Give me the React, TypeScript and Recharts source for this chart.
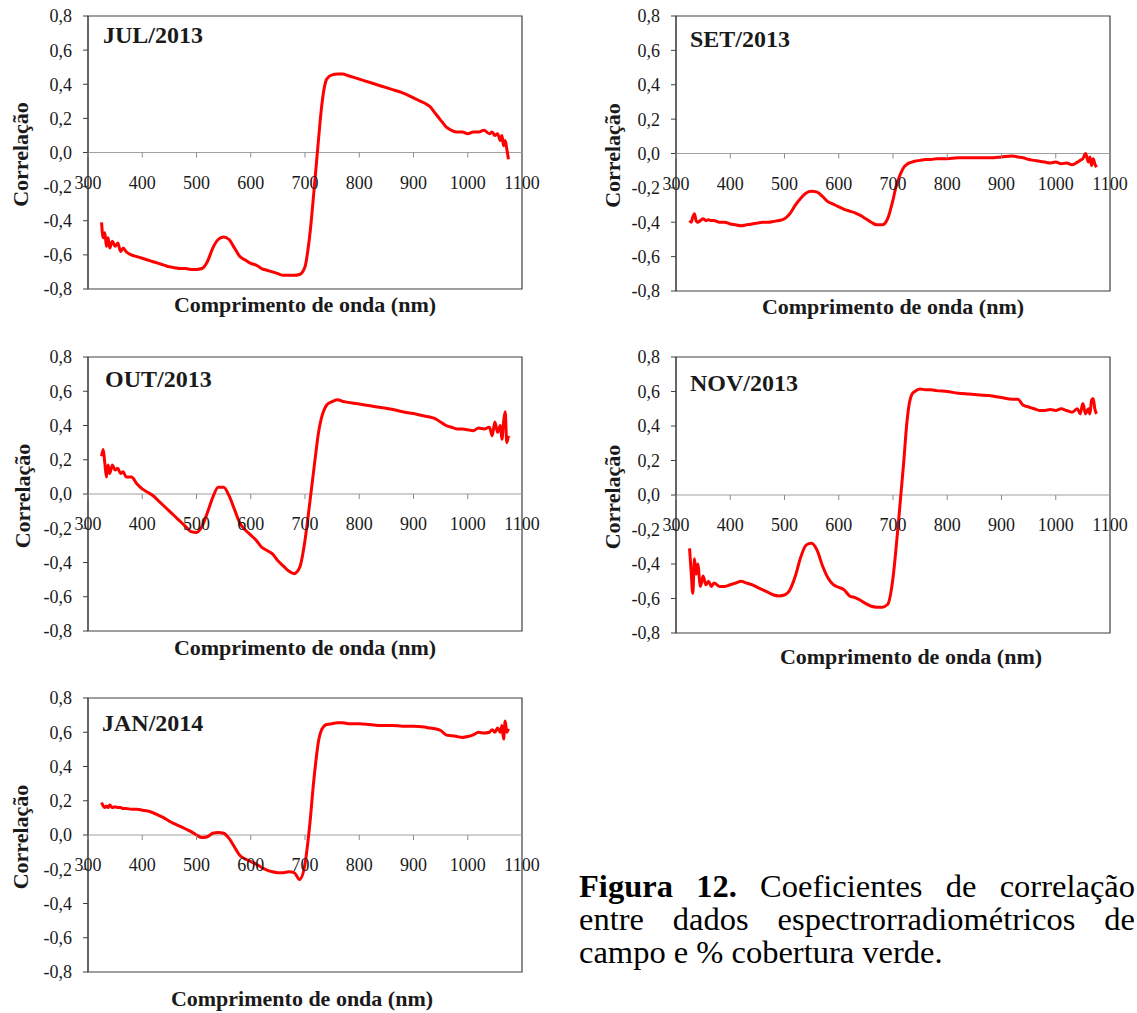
import { LineChart, Line, XAxis, YAxis, ReferenceLine, ReferenceArea } from 'recharts';

// wavelength grid (nm) shared by all panels
const wavelengths = [
  325, 328, 331, 334, 337, 340, 345, 350, 355, 360, 365, 370, 380, 390, 400, 410, 420, 430, 440, 450,
  460, 470, 480, 490, 500, 510, 520, 530, 540, 550, 560, 570, 580, 590, 600, 610, 620, 630, 640, 650,
  660, 670, 680, 690, 700, 705, 710, 715, 720, 725, 730, 735, 740, 750, 760, 770, 780, 800, 820, 840,
  860, 880, 900, 920, 930, 940, 950, 960, 970, 980, 990, 1000, 1010, 1020, 1030, 1040, 1045, 1050, 1055, 1060,
  1063, 1066, 1069, 1072, 1075
];

const jul2013 = [
  -0.41, -0.5, -0.47, -0.55, -0.5, -0.56, -0.52, -0.55, -0.53, -0.58, -0.56, -0.58, -0.6, -0.61, -0.62, -0.63, -0.64, -0.65, -0.66, -0.67,
  -0.675, -0.68, -0.68, -0.685, -0.685, -0.68, -0.64, -0.56, -0.51, -0.495, -0.51, -0.56, -0.61, -0.63, -0.65, -0.66, -0.68, -0.69, -0.7, -0.71,
  -0.72, -0.72, -0.72, -0.715, -0.67, -0.58, -0.45, -0.28, -0.1, 0.08, 0.25, 0.37, 0.43, 0.455, 0.46, 0.46, 0.45, 0.43, 0.41, 0.39,
  0.37, 0.35, 0.32, 0.29, 0.27, 0.23, 0.19, 0.15, 0.13, 0.12, 0.12, 0.11, 0.12, 0.12, 0.13, 0.11, 0.12, 0.1, 0.11, 0.07,
  0.1, 0.04, 0.07, 0.02, -0.04
];

const set2013 = [
  -0.39, -0.4, -0.37, -0.35, -0.39, -0.4, -0.39, -0.38, -0.39, -0.385, -0.39, -0.39, -0.4, -0.4, -0.41, -0.415, -0.42, -0.415, -0.41, -0.405,
  -0.4, -0.4, -0.395, -0.39, -0.38, -0.35, -0.3, -0.26, -0.23, -0.22, -0.225, -0.25, -0.28, -0.295, -0.31, -0.325, -0.335, -0.345, -0.36, -0.38,
  -0.4, -0.415, -0.415, -0.38, -0.27, -0.2, -0.15, -0.11, -0.08, -0.065, -0.055, -0.05, -0.045, -0.04, -0.035, -0.035, -0.03, -0.03, -0.025, -0.025,
  -0.025, -0.025, -0.02, -0.015, -0.02, -0.025, -0.035, -0.04, -0.045, -0.05, -0.055, -0.05, -0.06, -0.055, -0.065, -0.05, -0.04, -0.03, 0.0, -0.05,
  -0.02, -0.07, -0.03, -0.06, -0.08
];

const out2013 = [
  0.22, 0.26, 0.18, 0.1, 0.17, 0.12, 0.17, 0.14, 0.15, 0.12, 0.13, 0.1, 0.1, 0.06, 0.03, 0.01, -0.01, -0.04, -0.07, -0.1,
  -0.13, -0.16, -0.19, -0.22, -0.225, -0.19, -0.11, -0.02, 0.04, 0.04, -0.01, -0.09, -0.17, -0.21, -0.24, -0.27, -0.31, -0.33, -0.35, -0.39,
  -0.42, -0.45, -0.465, -0.43, -0.27, -0.15, -0.02, 0.11, 0.24, 0.36, 0.44, 0.49, 0.52, 0.54, 0.55, 0.54, 0.535, 0.525, 0.515, 0.505,
  0.495, 0.48, 0.47, 0.455, 0.45, 0.44, 0.42, 0.4, 0.39, 0.38, 0.38, 0.375, 0.37, 0.385, 0.38, 0.39, 0.34, 0.42, 0.36, 0.4,
  0.32, 0.42, 0.48, 0.3, 0.34
];

const nov2013 = [
  -0.31, -0.45, -0.57, -0.37, -0.46, -0.4, -0.53, -0.47, -0.52, -0.5, -0.53, -0.51, -0.53, -0.53, -0.52, -0.51, -0.5, -0.51, -0.52, -0.535,
  -0.55, -0.565, -0.58, -0.585, -0.58, -0.55, -0.47, -0.36, -0.29, -0.28, -0.32, -0.41, -0.48, -0.52, -0.535, -0.55, -0.585, -0.595, -0.61, -0.63,
  -0.645, -0.65, -0.65, -0.635, -0.48, -0.33, -0.16, 0.02, 0.2, 0.4, 0.53, 0.585, 0.6, 0.615, 0.61, 0.61, 0.605, 0.6, 0.59, 0.585,
  0.58, 0.575, 0.565, 0.555, 0.555, 0.52, 0.51, 0.5, 0.49, 0.49, 0.495, 0.49, 0.5, 0.49, 0.48, 0.5, 0.47, 0.53, 0.47, 0.5,
  0.47, 0.55, 0.56, 0.5, 0.47
];

const jan2014 = [
  0.19, 0.17, 0.16, 0.17, 0.16, 0.175, 0.16, 0.165, 0.16, 0.16, 0.155, 0.155, 0.15, 0.15, 0.145, 0.14, 0.13, 0.115, 0.1, 0.08,
  0.065, 0.05, 0.035, 0.02, 0.0, -0.015, -0.01, 0.01, 0.015, 0.01, -0.02, -0.07, -0.12, -0.14, -0.155, -0.17, -0.19, -0.205, -0.215, -0.22,
  -0.22, -0.215, -0.22, -0.26, -0.17, -0.05, 0.1, 0.28, 0.43, 0.55, 0.61, 0.635, 0.645, 0.65, 0.655, 0.655, 0.65, 0.65, 0.645, 0.64,
  0.64, 0.635, 0.635, 0.63, 0.625, 0.62, 0.61, 0.585, 0.58, 0.575, 0.57, 0.575, 0.585, 0.6, 0.595, 0.6, 0.615, 0.6, 0.625, 0.6,
  0.64, 0.56, 0.665, 0.6, 0.62
];

const xTicks = [300, 400, 500, 600, 700, 800, 900, 1000, 1100];
const yTicks = [-0.8, -0.6, -0.4, -0.2, 0, 0.2, 0.4, 0.6, 0.8];

const SERIF = "'Liberation Serif', 'Times New Roman', serif";
const TEXT = '#1a1a1a';
const BOX = '#404040';

const PAD_L = 88;
const PAD_T = 12;
const PAD_R = 30;
const PAD_B = 45;

interface PanelProps {
  title: string;
  values: number[];
  plotLeft: number;
  plotTop: number;
  plotW: number;
  plotH: number;
  titleDx: number;
  titleBase: number;
  xTitleBase: number;
  xTitleDx: number;
  yTitleDx: number;
}

function Panel({ title, values, plotLeft, plotTop, plotW, plotH, titleDx, titleBase, xTitleBase, xTitleDx, yTitleDx }: PanelProps) {
  const data = wavelengths.map((wl, i) => ({ wl, r: values[i] }));
  const width = PAD_L + plotW + PAD_R;
  const height = PAD_T + plotH + PAD_B;
  const zeroY = PAD_T + plotH / 2;

  // x tick labels sit just under the zero line, not at the bottom of the box
  const renderXTick = (props: any) => (
    <g>
      <line x1={props.x} x2={props.x} y1={zeroY} y2={zeroY + 5} stroke="#8c8c8c" />
      <text x={props.x} y={zeroY + 36} textAnchor="middle" fontSize={18} fontFamily={SERIF} fill={TEXT}>
        {props.payload.value}
      </text>
    </g>
  );

  const yTitleX = PAD_L - yTitleDx;
  const yTitleY = PAD_T + plotH / 2 + 2;

  return (
    <div style={{ position: 'absolute', left: plotLeft - PAD_L, top: plotTop - PAD_T }}>
      <LineChart width={width} height={height} data={data} margin={{ top: PAD_T, right: PAD_R, left: 0, bottom: 0 }}>
        <XAxis
          type="number"
          dataKey="wl"
          domain={[300, 1100]}
          ticks={xTicks}
          interval={0}
          height={PAD_B}
          axisLine={false}
          tickLine={false}
          tick={renderXTick}
          label={{
            content: () => (
              <text
                x={PAD_L + plotW / 2 + xTitleDx}
                y={PAD_T + plotH + xTitleBase}
                textAnchor="middle"
                fontSize={22}
                fontWeight="bold"
                fontFamily={SERIF}
                fill={TEXT}
              >
                Comprimento de onda (nm)
              </text>
            )
          }}
        />
        <YAxis
          type="number"
          domain={[-0.8, 0.8]}
          ticks={yTicks}
          interval={0}
          width={PAD_L}
          tickSize={5}
          tickMargin={11}
          axisLine={{ stroke: BOX }}
          tickLine={{ stroke: BOX }}
          tick={{ fontSize: 18, fontFamily: SERIF, fill: TEXT }}
          tickFormatter={(v: number) => v.toFixed(1).replace('.', ',')}
          label={{
            content: () => (
              <text
                transform={`translate(${yTitleX}, ${yTitleY}) rotate(-90)`}
                textAnchor="middle"
                dominantBaseline="central"
                fontSize={22}
                fontWeight="bold"
                fontFamily={SERIF}
                fill={TEXT}
              >
                Correlação
              </text>
            )
          }}
        />
        <ReferenceArea
          x1={300}
          x2={1100}
          y1={-0.8}
          y2={0.8}
          fill="none"
          fillOpacity={0}
          stroke={BOX}
          strokeWidth={1.2}
          label={{
            content: () => (
              <text
                x={PAD_L + titleDx}
                y={PAD_T + titleBase}
                fontSize={24}
                fontWeight="bold"
                fontFamily={SERIF}
                fill={TEXT}
              >
                {title}
              </text>
            )
          }}
        />
        <ReferenceLine y={0} stroke="#a0a0a0" strokeWidth={1.2} />
        <Line
          type="monotone"
          dataKey="r"
          stroke="#ff0000"
          strokeWidth={3}
          strokeLinejoin="round"
          dot={false}
          isAnimationActive={false}
        />
      </LineChart>
    </div>
  );
}

const captionLine: React.CSSProperties = {
  margin: 0,
  height: 33,
  whiteSpace: 'nowrap',
  textAlign: 'justify',
  textAlignLast: 'justify'
};

export default function App() {
  return (
    <div style={{ position: 'absolute', left: 0, top: 0, width: 1137, height: 1013, background: '#fff' }}>
      <Panel title="JUL/2013" values={jul2013} plotLeft={88} plotTop={16} plotW={434} plotH={273}
        titleDx={15} titleBase={27} xTitleBase={23} xTitleDx={0} yTitleDx={68} />
      <Panel title="SET/2013" values={set2013} plotLeft={676} plotTop={16} plotW={434} plotH={275}
        titleDx={14} titleBase={31} xTitleBase={23} xTitleDx={0} yTitleDx={64} />
      <Panel title="OUT/2013" values={out2013} plotLeft={88} plotTop={357} plotW={434} plotH={274}
        titleDx={17} titleBase={30} xTitleBase={24} xTitleDx={0} yTitleDx={66} />
      <Panel title="NOV/2013" values={nov2013} plotLeft={676} plotTop={357} plotW={434} plotH={276}
        titleDx={14} titleBase={34} xTitleBase={31} xTitleDx={18} yTitleDx={64} />
      <Panel title="JAN/2014" values={jan2014} plotLeft={88} plotTop={698} plotW={434} plotH={274}
        titleDx={14} titleBase={33} xTitleBase={34} xTitleDx={-3} yTitleDx={68} />
      <div
        style={{
          position: 'absolute',
          left: 579,
          top: 870,
          width: 556,
          fontFamily: SERIF,
          fontSize: 32.5,
          lineHeight: '33px',
          color: '#000'
        }}
      >
        <div style={{ ...captionLine, whiteSpace: 'normal' }}>
          <b>Figura 12.</b> Coeficientes de correlação
        </div>
        <div style={{ ...captionLine, whiteSpace: 'normal' }}>entre dados espectrorradiométricos de</div>
        <div style={{ ...captionLine, textAlignLast: 'left' }}>campo e % cobertura verde.</div>
      </div>
    </div>
  );
}
